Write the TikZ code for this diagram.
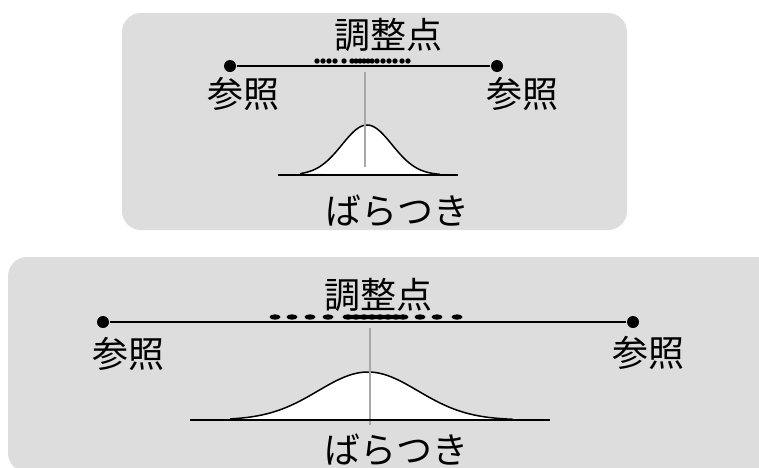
\documentclass[tikz,border=0pt]{standalone}
\usepackage{fontspec}
\newfontfamily\cjkfont{Noto Sans CJK JP}
\definecolor{panelgray}{RGB}{221,221,221}
\definecolor{axisgray}{RGB}{168,168,168}
\begin{document}
\begin{tikzpicture}[
		x=1pt, y=-1pt,
		line width=1.5pt,
		every node/.style={font=\cjkfont\fontsize{36}{36}\selectfont, inner sep=0pt},
		panel/.style={fill=panelgray, rounded corners=19pt},
		refdot/.style={circle, fill=black, minimum size=12pt, inner sep=0pt},
		centerline/.style={draw=axisgray, line width=1.3pt},
		bell/.style={draw=black, fill=white, line width=1.5pt}
	]
		\useasboundingbox (0,0) rectangle (759,467);
		\clip (0,0) rectangle (759,467);

		% upper panel: narrow spread
		\fill[panel] (122,13) rectangle (627,230);
		\node[refdot] (refl1) at (230,66) {};
		\node[refdot] (refr1) at (497,66) {};
		\draw (refl1) -- (refr1);
		\foreach \x in {317,323,329,335,344,352,356,360,364,368,372,377,383,389,395,402,408}
			\fill (\x,61) circle (2.7pt);
		\node (adj1) at (388,35) {調整点};
		\node (lbll1) at (243,94) {参照};
		\node (lblr1) at (522,94) {参照};
		\draw[bell] plot[domain=300:440, samples=80, smooth] (\x,{175-50*exp(-0.5*((\x-367)/25)^2)});
		\coordinate (axt1) at (365,72);
		\coordinate (axb1) at (365,167);
		\draw[centerline] (axt1) -- (axb1);
		\coordinate (basel1) at (278,175);
		\coordinate (baser1) at (458,175);
		\draw (basel1) -- (baser1);
		\node (spread1) at (397,211) {ばらつき};

		% lower panel: wide spread
		\fill[panel] (8,257) rectangle (790,472);
		\node[refdot] (refl2) at (103,322) {};
		\node[refdot] (refr2) at (633,322) {};
		\draw (refl2) -- (refr2);
		\foreach \x in {275,292,310,328,348,356,364,372,380,388,396,403,420,437,457}
			\fill (\x,317) ellipse [x radius=5.5pt, y radius=2.7pt];
		\node (adj2) at (378,295) {調整点};
		\node (lbll2) at (128,354) {参照};
		\node (lblr2) at (648,353) {参照};
		\draw[bell] plot[domain=230:513, samples=120, smooth] (\x,{420-48*exp(-0.5*((\x-368)/50)^2)});
		\coordinate (axt2) at (370,328);
		\coordinate (axb2) at (370,425);
		\draw[centerline] (axt2) -- (axb2);
		\coordinate (basel2) at (190,420);
		\coordinate (baser2) at (550,420);
		\draw (basel2) -- (baser2);
		\node (spread2) at (396,450) {ばらつき};
	\end{tikzpicture}
\end{document}
